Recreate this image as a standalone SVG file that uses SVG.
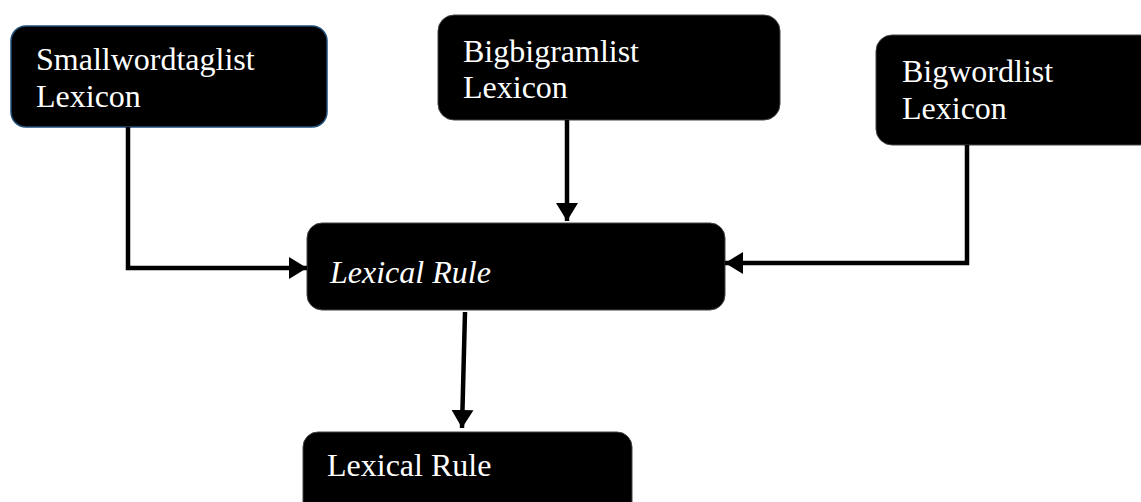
<svg xmlns="http://www.w3.org/2000/svg" width="1141" height="502" viewBox="0 0 1141 502">
<style>
.box{fill:#000;stroke:#444;stroke-width:1}
.t{font-family:"Liberation Serif","Times New Roman",serif;font-size:32px;fill:#fff}
.c{fill:none;stroke:#000;stroke-width:4.5}
</style>
<defs>
<marker id="ah" markerUnits="userSpaceOnUse" markerWidth="20" markerHeight="24" refX="18" refY="12" orient="auto" viewBox="0 0 20 24">
<path d="M0,1 L18,12 L0,23 Z" fill="#000"/>
</marker>
</defs>
<g id="n-small">
<rect class="box" x="11" y="26" width="316" height="101" rx="15" style="stroke:#1f4e79;stroke-width:1.5"/>
<text class="t" x="36" y="70">Smallwordtaglist</text>
<text class="t" x="36" y="107">Lexicon</text>
</g>
<g id="n-bigbigram">
<rect class="box" x="438" y="15" width="342" height="105" rx="16"/>
<text class="t" x="463" y="62">Bigbigramlist</text>
<text class="t" x="463" y="98">Lexicon</text>
</g>
<g id="n-bigword">
<rect class="box" x="876" y="35" width="280" height="110" rx="16"/>
<text class="t" x="902" y="82">Bigwordlist</text>
<text class="t" x="902" y="119">Lexicon</text>
</g>
<g id="n-rule1">
<rect class="box" x="307" y="223" width="418" height="87" rx="15"/>
<text class="t" x="330" y="283" font-style="italic">Lexical Rule</text>
</g>
<g id="n-rule2">
<rect class="box" x="303" y="432" width="329" height="90" rx="15"/>
<text class="t" x="327" y="476">Lexical Rule</text>
</g>
<g id="connectors">
<path class="c" d="M128,127 V268 H307" marker-end="url(#ah)"/>
<path class="c" d="M567,120 V221" marker-end="url(#ah)"/>
<path class="c" d="M967,145 V263 H725" marker-end="url(#ah)"/>
<path class="c" d="M465,312 L462,428" marker-end="url(#ah)"/>
</g>
</svg>
